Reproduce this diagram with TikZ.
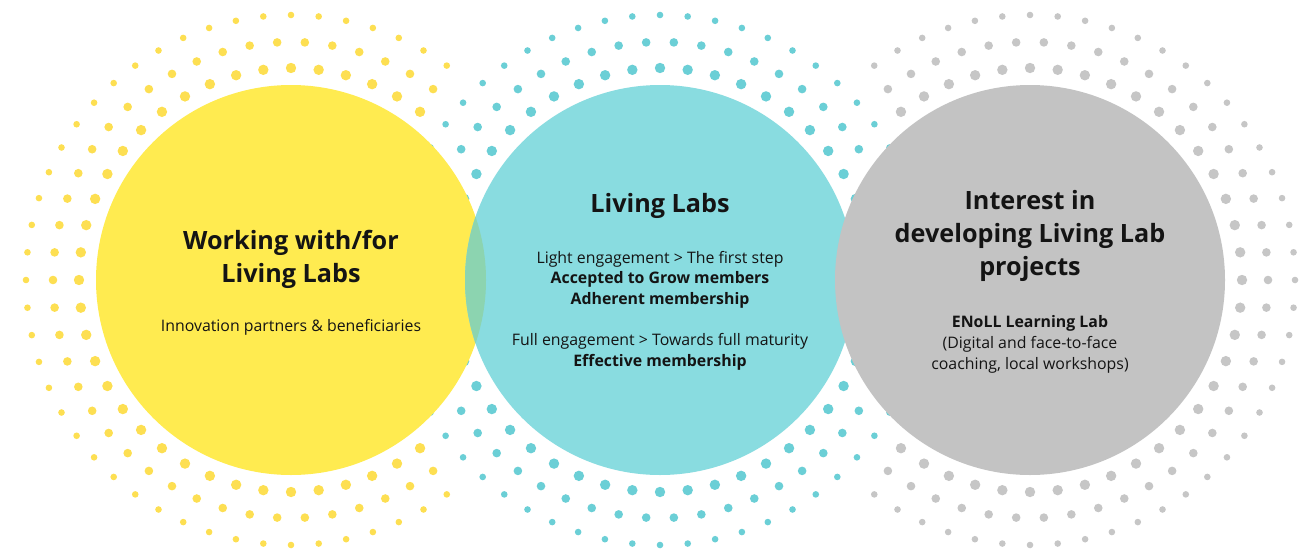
\documentclass[tikz,border=0pt]{standalone}
\usepackage{fontspec}
\setmainfont{Open Sans}
\usetikzlibrary{calc}

\definecolor{labyellow}{HTML}{FFEB50}
\definecolor{dotyellow}{HTML}{FDDF52}
\definecolor{labteal}{HTML}{89DCE0}
\definecolor{dotteal}{HTML}{6BCFD6}
\definecolor{labgray}{HTML}{C3C3C3}
\definecolor{dotgray}{HTML}{C6C6C6}
\definecolor{labgreen}{HTML}{8CD4B0}

% three rings of dots round a centre: #1 centre, #2 colour
\newcommand\dotrings[2]{%
  \foreach \r/\n/\s/\o in {212/48/5.2/0, 238/54/4.3/0.5, 265/60/3.3/0}{
    \foreach \k in {1,...,\n}{
      \fill[#2] ($(#1)+({90+(\k+\o)/\n*360}:\r)$) circle[radius=\s];
    }
  }%
}

\begin{document}
\begin{tikzpicture}[x=0.75pt,y=-0.75pt,
    bubble/.style={circle,minimum size=292.5pt,inner sep=0pt},
    head/.style={font=\fontsize{18.9}{24.75}\selectfont\bfseries,align=center,text=black!92,anchor=base},
    body/.style={font=\fontsize{11.9}{15.4}\selectfont,align=center,text=black!92,anchor=base}]
    \useasboundingbox (0,0) rectangle (1309,550);

    \coordinate (yc) at (291,280);
    \coordinate (tc) at (660,280);
    \coordinate (gc) at (1030,280);

    % dots
    \dotrings{yc}{dotyellow}
    \dotrings{gc}{dotgray}
    \fill[white] (tc) circle[radius=280];
    \dotrings{tc}{dotteal}

    % circles
    \node[bubble,fill=labyellow] (work) at (yc) {};
    \node[bubble,fill=labteal] (labs) at (tc) {};
    \node[bubble,fill=labgray] (interest) at (gc) {};
    \begin{scope}
        \clip (yc) circle[radius=195];
        \fill[labgreen] (tc) circle[radius=195];
    \end{scope}

    % texts (base = last line)
    \node[head] (workhead) at (291,282) {Working with/for\\Living Labs};
    \node[body] (workbody) at (291,331) {Innovation partners \& beneficiaries};

    \node[head] (labshead) at (660,212) {Living Labs};
    \node[body] (labsbody) at (660,366) {Light engagement > The first step\\
        \textbf{Accepted to Grow members}\\
        \textbf{Adherent membership}\\[15.4pt]
        Full engagement > Towards full maturity\\
        \textbf{Effective membership}};

    \node[head] (interesthead) at (1030,275) {Interest in\\developing Living Lab\\projects};
    \node[body] (interestbody) at (1030,369) {\textbf{ENoLL Learning Lab}\\
        (Digital and face-to-face\\
        coaching, local workshops)};
\end{tikzpicture}
\end{document}
